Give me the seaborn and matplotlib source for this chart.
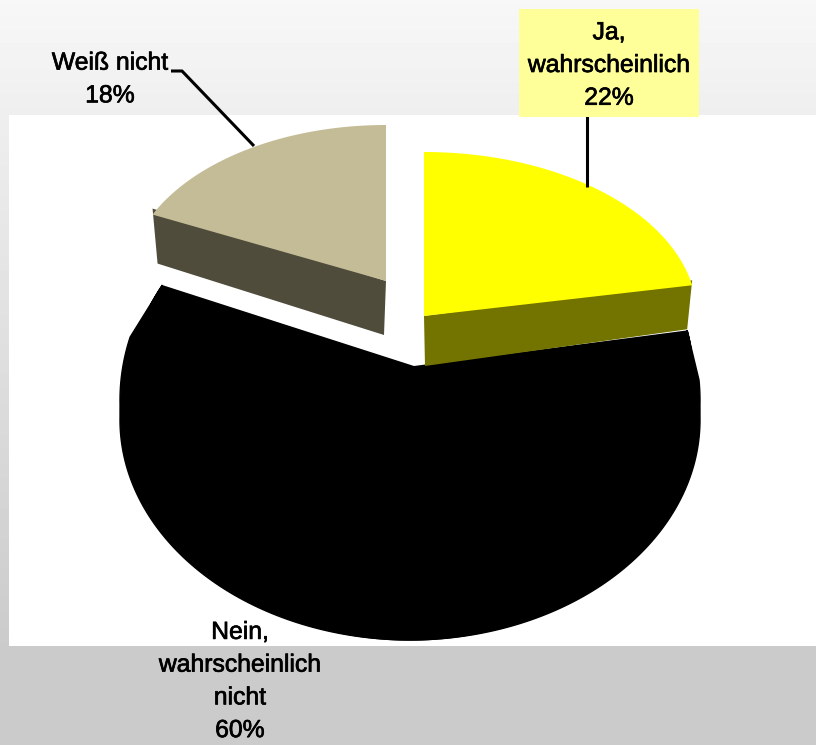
import numpy as np
import matplotlib
matplotlib.use("Agg")
import matplotlib.pyplot as plt
import matplotlib.patheffects as pe
import seaborn as sns

# Survey answers and their shares in percent
answers = ["Ja,\nwahrscheinlich", "Nein,\nwahrscheinlich\nnicht", "Weiß nicht"]
shares = [22, 60, 18]
top_colors = ["#ffff00", "#000000", "#c4bc96"]
side_colors = ["#737300", "#000000", "#504c3c"]

sns.set_theme(style="white")
plt.rcParams["font.family"] = ["Liberation Sans", "DejaVu Sans"]

W, H = 816, 745
fig = plt.figure(figsize=(W / 100, H / 100), dpi=100)
ax = fig.add_axes([0, 0, 1, 1])
ax.set_xlim(0, W)
ax.set_ylim(H, 0)
ax.axis("off")

# Slide background: vertical grey gradient, white plot area on top
rows = np.arange(H)
shade = np.interp(rows, [0, 115, 645, H], [0.97, 0.935, 0.796, 0.796])
ax.imshow(shade[:, None], cmap="gray", vmin=0, vmax=1, aspect="auto",
          extent=(0, W, H, 0), zorder=0)
ax.add_patch(plt.Rectangle((9, 115), W - 9, 531, fc="white", ec="none", zorder=1))

# Slice sweep in radians, clockwise from twelve o'clock
edges = np.deg2rad(np.cumsum([0] + shares) * 3.6)


def rim(start, stop, cx, cy, rx, ry, n=200):
    t = np.linspace(start, stop, n)
    return cx + rx * np.sin(t), cy - ry * np.cos(t)


def top_face(start, stop, cx, cy, rx, ry, color, z):
    x, y = rim(start, stop, cx, cy, rx, ry)
    ax.fill(np.r_[cx, x], np.r_[cy, y], color=color, lw=0, zorder=z)


# Yellow slice, slightly pulled out
yes = (424, 316, 273, 164)
top_face(edges[0], edges[1], *yes, top_colors[0], 4)
ex, ey = rim(edges[1], edges[1], *yes, n=1)
ax.fill([yes[0], ex[0], ex[0] - 5, yes[0] + 1],
        [yes[1], ey[0] - 5, ey[0] + 44, yes[1] + 50],
        color=side_colors[0], lw=0, zorder=3)

# Large black slice: wall swept between the upper rim and the wider base rims
no_top = (414, 366, 278, 190)
no_base = (410, 420, 290, 220)
no_shoulder = (410, 400, 290, 240)
top_face(edges[1], edges[2], *no_top, top_colors[1], 2)
tx, ty = rim(edges[1], edges[2], *no_top)
bx, by = rim(edges[1], edges[2], *no_base)
ax.fill(np.r_[tx, bx[::-1]], np.r_[ty, by[::-1]],
        fc=side_colors[1], ec=side_colors[1], lw=1, zorder=2)
sx, sy = rim(edges[1] + np.deg2rad(6), edges[2] - np.deg2rad(10), *no_shoulder)
ax.fill(np.r_[tx, sx[::-1]], np.r_[ty, sy[::-1]],
        fc=side_colors[1], ec=side_colors[1], lw=1, zorder=2)

# Tan slice, pulled out to the upper left
unsure = (386, 281, 258, 156)
top_face(edges[2], edges[3], *unsure, top_colors[2], 4)
ex, ey = rim(edges[2], edges[2], *unsure, n=1)
ax.fill([unsure[0], ex[0], ex[0] + 5, unsure[0] - 2],
        [unsure[1], ey[0] - 6, ey[0] + 49, unsure[1] + 54],
        color=side_colors[2], lw=0, zorder=3)

# Leader lines
ax.plot([587, 587], [116, 187], color="black", lw=2.2, zorder=5, solid_capstyle="butt")
ax.plot([171, 182, 254], [71, 71, 146], color="black", lw=2.2, zorder=5, solid_capstyle="butt")

# Labels
fs = 17.8
label_style = dict(ha="center", va="center", fontsize=fs, linespacing=1.46, zorder=6,
                   color="black", path_effects=[pe.withStroke(linewidth=0.5, foreground="black")])
ax.add_patch(plt.Rectangle((519, 9), 180, 108, fc="#ffff99", ec="none", zorder=5))
ax.text(609, 65, f"{answers[0]}\n{shares[0]}%", **label_style)
ax.text(240, 681, f"{answers[1]}\n{shares[1]}%", **label_style)
ax.text(110, 79, f"{answers[2]}\n{shares[2]}%", **label_style)

fig.savefig("out.png", dpi=100)
